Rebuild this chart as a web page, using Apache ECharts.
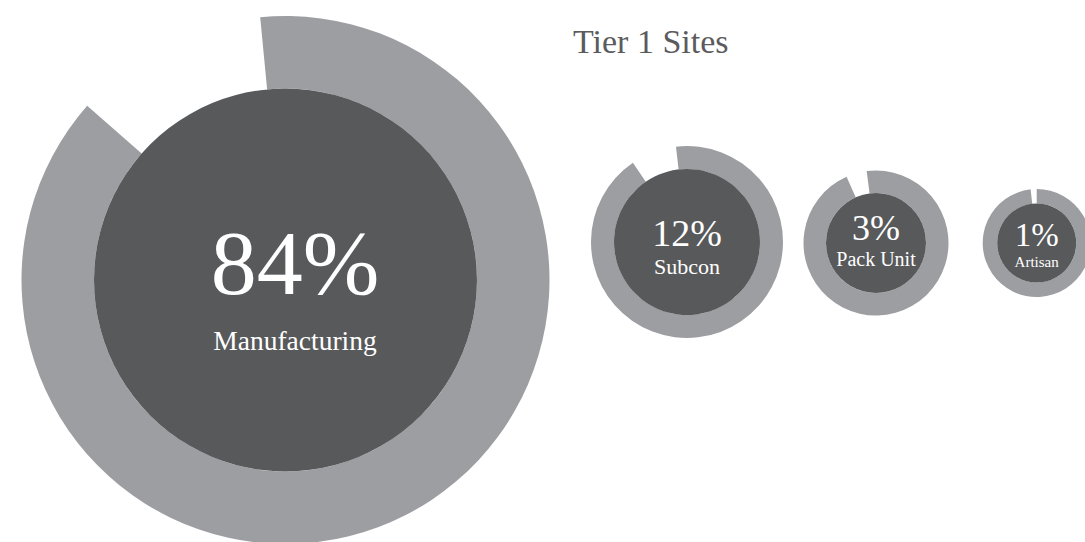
<!DOCTYPE html>
<html>
<head>
<meta charset="utf-8">
<script src="https://cdn.jsdelivr.net/npm/echarts@6/dist/echarts.min.js"></script>
<style>
  html, body { margin: 0; padding: 0; background: #ffffff; }
  #chart { width: 1085px; height: 542px; }
</style>
</head>
<body>
<div id="chart"></div>
<script>
// Share of Tier 1 sites by type
const titleText = 'Tier 1 Sites';
const categories = ['Manufacturing', 'Subcon', 'Pack Unit', 'Artisan'];
const shares = [84, 12, 3, 1];
// how much of each outer ring is filled (percent of a full turn)
const ringFill = [88, 92.3, 95.4, 98.2];

// badge geometry and type sizes, one entry per site type
const badgeLayout = [
  { center: [285.5, 280], inner: 191.5, outer: 264, start: 95.5,
    pctSize: 92, pctLine: 120, nameSize: 27.5, nameLine: 35, shiftX: 19 },
  { center: [687, 242], inner: 73, outer: 96, start: 96.6,
    pctSize: 38, pctLine: 48, nameSize: 22, nameLine: 19, shiftX: 0 },
  { center: [876, 243], inner: 50, outer: 72.5, start: 97.4,
    pctSize: 36, pctLine: 32, nameSize: 20, nameLine: 30, shiftX: 0 },
  { center: [1036.7, 243], inner: 39.5, outer: 54, start: 90,
    pctSize: 33, pctLine: 38, nameSize: 15, nameLine: 16, shiftX: 0 }
];

const ringColor = '#9d9ea2';
const discColor = '#58595b';
const serif = '"Liberation Serif", "DejaVu Serif", serif';

const series = [];
categories.forEach((name, i) => {
  const b = badgeLayout[i];
  // outer ring: filled arc plus an empty remainder
  series.push({
    type: 'pie',
    silent: true,
    center: b.center,
    radius: [b.inner, b.outer],
    startAngle: b.start,
    clockwise: true,
    avoidLabelOverlap: false,
    label: { show: false },
    labelLine: { show: false },
    itemStyle: { borderWidth: 0 },
    data: [
      { value: ringFill[i], itemStyle: { color: ringColor } },
      { value: 100 - ringFill[i], itemStyle: { color: 'rgba(0,0,0,0)' } }
    ]
  });
  // inner disc carrying the share and the site type
  series.push({
    type: 'pie',
    silent: true,
    center: b.center,
    radius: [0, b.inner],
    label: {
      show: true,
      position: 'center',
      color: '#ffffff',
      fontFamily: serif,
      padding: [0, 0, 0, b.shiftX],
      formatter: (p) => '{p|' + shares[i] + '%}\n{n|' + p.name + '}',
      rich: {
        p: { fontSize: b.pctSize, lineHeight: b.pctLine, color: '#ffffff', fontFamily: serif },
        n: { fontSize: b.nameSize, lineHeight: b.nameLine, color: '#ffffff', fontFamily: serif }
      }
    },
    labelLine: { show: false },
    itemStyle: { color: discColor, borderWidth: 0 },
    data: [{ name: name, value: shares[i] }]
  });
});

const chart = echarts.init(document.getElementById('chart'), null, { renderer: 'svg' });
chart.setOption({
  animation: false,
  backgroundColor: '#ffffff',
  title: {
    text: titleText,
    left: 573,
    top: 24,
    padding: 0,
    textStyle: { fontFamily: serif, fontSize: 34, fontWeight: 'normal', color: '#5b5b5d' }
  },
  series: series
});
</script>
</body>
</html>
